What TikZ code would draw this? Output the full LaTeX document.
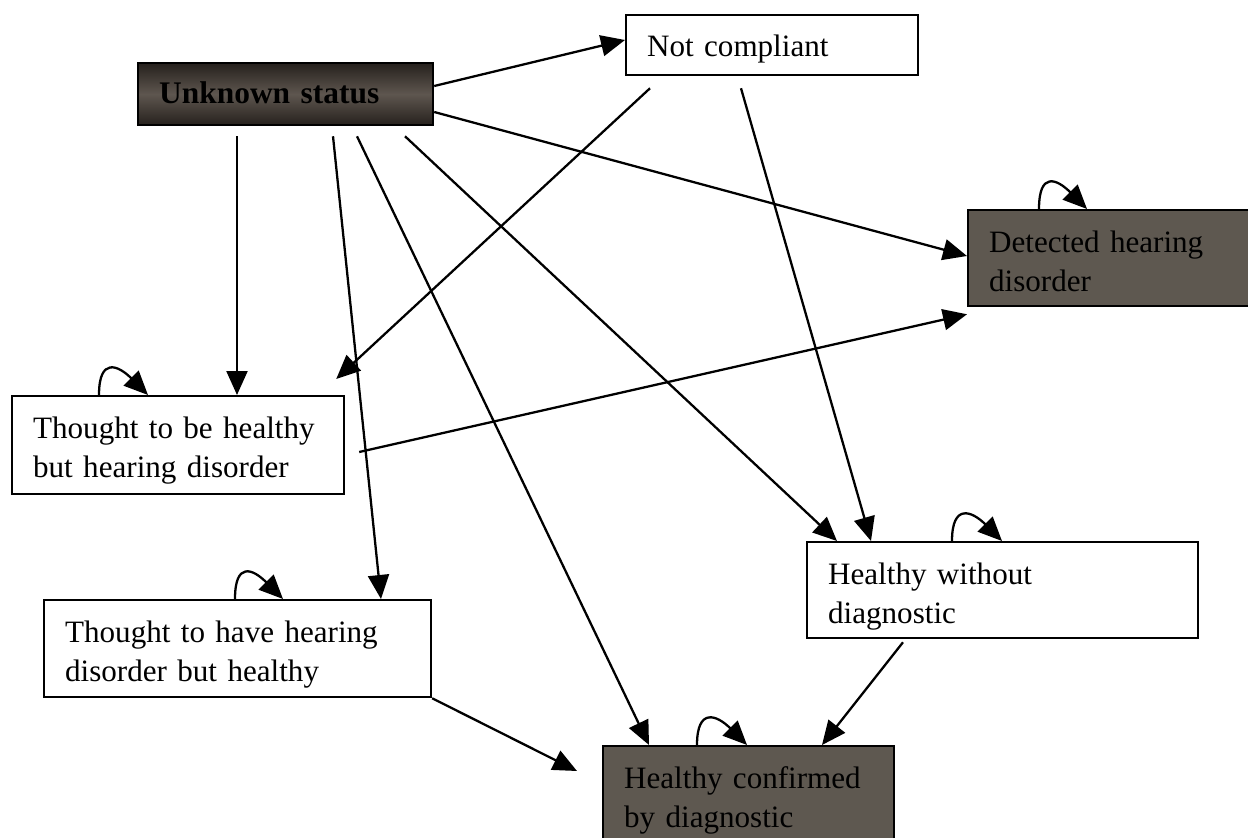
\documentclass[tikz,border=0pt]{standalone}
\usepackage{fontspec}
\setmainfont{Liberation Serif}
\usetikzlibrary{arrows.meta,calc}

\definecolor{boxfill}{HTML}{5E5850}
\definecolor{unkdark}{HTML}{26211D}
\definecolor{unkmid}{HTML}{5E564F}

\begin{document}
\begin{tikzpicture}[x=0.02cm,y=-0.02cm,
	box/.style={draw, line width=1.3pt, anchor=north west, align=left,
		inner xsep=0.42cm, inner ysep=0pt, text height=0.85cm,
		font=\fontsize{17.7}{22.2}\selectfont},
	arr/.style={line width=1.3pt, -{Triangle[length=0.48cm,width=0.42cm]}}]
	%\draw [help lines] (0,0) grid (1248,838);
	\useasboundingbox (0,0) rectangle (1248,838);
	% states
	\node[box, text width=5.06cm, text height=0.8cm, text depth=0.44cm,
		top color=unkdark, bottom color=unkdark, middle color=unkmid,
		font=\fontsize{17.9}{22.2}\selectfont\bfseries] (unk) at (137,62) {Unknown status};
	\node[box, text width=5.0cm, text height=0.82cm, text depth=0.38cm] (nc) at (625,14) {Not compliant};
	\node[box, fill=boxfill, text width=4.96cm, text depth=1.07cm] (det) at (967,209) {Detected hearing\\disorder};
	\node[box, text width=5.8cm, text depth=1.11cm] (th) at (11,395) {Thought to be healthy\\but hearing disorder};
	\node[box, text width=6.9cm, text depth=1.09cm] (tv) at (43,599) {Thought to have hearing\\disorder but healthy};
	\node[box, text width=6.98cm, text depth=1.07cm] (hw) at (806,541) {Healthy without\\diagnostic};
	\node[box, fill=boxfill, text width=4.98cm, text depth=1.15cm] (hc) at (602,745) {Healthy confirmed\\by diagnostic};
	% transitions
	\draw[arr] ($(unk.north east)+(0,24)$) -- ($(nc.north west)+(0,26)$);
	\draw[arr] ($(unk.north east)+(0,50)$) -- ($(det.north west)+(0,47)$);
	\draw[arr] ($(unk.south west)+(100,10)$) -- ($(th.north west)+(226,0)$);
	\draw[arr] ($(unk.south west)+(196,10)$) -- ($(tv.north west)+(338,0)$);
	\draw[arr] ($(unk.south west)+(220,10)$) -- ($(hc.north west)+(47,0)$);
	\draw[arr] ($(unk.south west)+(268,10)$) -- ($(hw.north west)+(31,0)$);
	\draw[arr] ($(nc.south west)+(25,12)$) -- ($(th.north east)+(-9,-16)$);
	\draw[arr] ($(nc.south west)+(116,12)$) -- ($(hw.north west)+(65,0)$);
	\draw[arr] ($(th.north east)+(14,57)$) -- ($(det.south west)+(0,7)$);
	\draw[arr] (tv.south east) -- ($(hc.north west)+(-25,26)$);
	\draw[arr] ($(hw.south west)+(97,3)$) -- ($(hc.north west)+(220,0)$);
	% self loops
	\draw[arr] ($(det.north west)+(72,0)$) .. controls +(0,-38) and +(-30,-30) .. ($(det.north west)+(120,0)$);
	\draw[arr] ($(th.north west)+(88,0)$) .. controls +(0,-38) and +(-30,-30) .. ($(th.north west)+(137,0)$);
	\draw[arr] ($(tv.north west)+(192,0)$) .. controls +(0,-38) and +(-30,-30) .. ($(tv.north west)+(240,0)$);
	\draw[arr] ($(hw.north west)+(146,0)$) .. controls +(0,-38) and +(-30,-30) .. ($(hw.north west)+(196,0)$);
	\draw[arr] ($(hc.north west)+(95,0)$) .. controls +(0,-38) and +(-30,-30) .. ($(hc.north west)+(145,0)$);
\end{tikzpicture}
\end{document}
